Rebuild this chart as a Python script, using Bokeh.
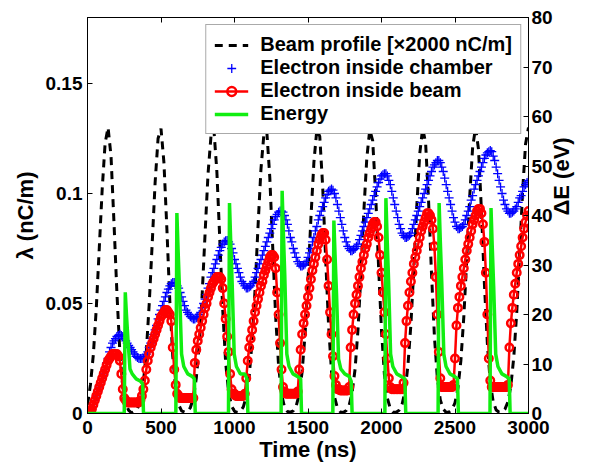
import math
from bokeh.plotting import figure
from bokeh.models import (Range1d, LinearAxis, FixedTicker, CustomJSTickFormatter,
                          Legend, LegendItem)
from bokeh.embed import file_html
from bokeh.resources import INLINE

# ---------------- data ----------------
# sampling grid (ns) of the electron curves
time_ns = list(range(0, 3001, 10))

# Electron inside chamber (nC/m), one row per 100 ns
chamber = [
    0.000, 0.0005, 0.001, 0.002, 0.004, 0.006, 0.008, 0.010, 0.012, 0.014,
    0.016, 0.018, 0.020, 0.023, 0.025, 0.028, 0.030, 0.032, 0.033, 0.034,
    0.035, 0.0355, 0.036, 0.0355, 0.035, 0.034, 0.033, 0.032, 0.031, 0.030,
    0.029, 0.028, 0.027, 0.026, 0.0255, 0.025, 0.025, 0.025, 0.025, 0.026,
    0.027, 0.028, 0.030, 0.032, 0.034, 0.036, 0.038, 0.040, 0.043, 0.045,
    0.047, 0.049, 0.051, 0.053, 0.055, 0.0565, 0.058, 0.059, 0.0595, 0.0595,
    0.059, 0.058, 0.057, 0.055, 0.053, 0.051, 0.049, 0.047, 0.046, 0.045,
    0.044, 0.0435, 0.043, 0.043, 0.0435, 0.044, 0.045, 0.046, 0.048, 0.050,
    0.052, 0.054, 0.057, 0.059, 0.062, 0.064, 0.066, 0.068, 0.070, 0.072,
    0.074, 0.0755, 0.077, 0.078, 0.0785, 0.0786, 0.078, 0.077, 0.075, 0.073,
    0.070, 0.068, 0.066, 0.064, 0.062, 0.060, 0.059, 0.058, 0.057, 0.057,
    0.0575, 0.058, 0.059, 0.060, 0.062, 0.064, 0.066, 0.068, 0.070, 0.072,
    0.074, 0.076, 0.078, 0.080, 0.082, 0.084, 0.086, 0.088, 0.0895, 0.0905,
    0.0915, 0.092, 0.092, 0.0915, 0.090, 0.088, 0.086, 0.083, 0.080, 0.078,
    0.075, 0.073, 0.071, 0.069, 0.068, 0.067, 0.067, 0.0675, 0.068, 0.069,
    0.071, 0.073, 0.075, 0.078, 0.080, 0.083, 0.085, 0.088, 0.090, 0.092,
    0.094, 0.096, 0.098, 0.0995, 0.101, 0.1015, 0.102, 0.1015, 0.100, 0.098,
    0.095, 0.092, 0.089, 0.086, 0.083, 0.080, 0.078, 0.076, 0.075, 0.074,
    0.074, 0.0745, 0.075, 0.076, 0.077, 0.079, 0.081, 0.083, 0.085, 0.087,
    0.089, 0.091, 0.093, 0.095, 0.097, 0.099, 0.101, 0.103, 0.105, 0.1065,
    0.108, 0.1085, 0.109, 0.109, 0.108, 0.106, 0.104, 0.101, 0.098, 0.095,
    0.092, 0.089, 0.086, 0.084, 0.082, 0.081, 0.080, 0.080, 0.0805, 0.081,
    0.082, 0.084, 0.086, 0.088, 0.090, 0.092, 0.094, 0.096, 0.098, 0.100,
    0.102, 0.104, 0.106, 0.108, 0.110, 0.112, 0.113, 0.114, 0.115, 0.115,
    0.114, 0.112, 0.110, 0.107, 0.104, 0.101, 0.098, 0.095, 0.092, 0.089,
    0.087, 0.085, 0.084, 0.084, 0.0845, 0.085, 0.086, 0.088, 0.090, 0.092,
    0.094, 0.097, 0.099, 0.102, 0.104, 0.106, 0.108, 0.110, 0.112, 0.114,
    0.116, 0.1175, 0.1185, 0.119, 0.1195, 0.119, 0.117, 0.115, 0.112, 0.109,
    0.106, 0.103, 0.100, 0.097, 0.095, 0.093, 0.092, 0.091, 0.091, 0.0915,
    0.092, 0.093, 0.094, 0.096, 0.098, 0.099, 0.101, 0.103, 0.104, 0.105,
    0.106,
]

# Electron inside beam (nC/m), one row per 100 ns
in_beam = [
    0.000, 0.0005, 0.001, 0.002, 0.004, 0.006, 0.008, 0.010, 0.012, 0.014,
    0.016, 0.018, 0.020, 0.022, 0.024, 0.025, 0.026, 0.027, 0.027, 0.027,
    0.027, 0.026, 0.024, 0.018, 0.011, 0.007, 0.006, 0.005, 0.005, 0.005,
    0.005, 0.005, 0.005, 0.005, 0.005, 0.005, 0.006, 0.008, 0.011, 0.015,
    0.020, 0.024, 0.027, 0.030, 0.032, 0.034, 0.036, 0.038, 0.040, 0.042,
    0.044, 0.045, 0.046, 0.047, 0.047, 0.046, 0.045, 0.042, 0.030, 0.020,
    0.013, 0.009, 0.008, 0.007, 0.007, 0.007, 0.007, 0.007, 0.007, 0.007,
    0.007, 0.007, 0.007, 0.023, 0.029, 0.033, 0.036, 0.039, 0.042, 0.045,
    0.048, 0.050, 0.053, 0.055, 0.057, 0.059, 0.060, 0.061, 0.062, 0.062,
    0.062, 0.061, 0.057, 0.050, 0.043, 0.035, 0.028, 0.018, 0.011, 0.009,
    0.009, 0.008, 0.008, 0.008, 0.008, 0.008, 0.008, 0.009, 0.016, 0.024,
    0.030, 0.034, 0.038, 0.042, 0.046, 0.049, 0.052, 0.055, 0.058, 0.060,
    0.063, 0.065, 0.067, 0.069, 0.071, 0.072, 0.072, 0.071, 0.066, 0.055,
    0.045, 0.032, 0.020, 0.012, 0.010, 0.009, 0.009, 0.009, 0.009, 0.009,
    0.009, 0.009, 0.009, 0.010, 0.020, 0.029, 0.036, 0.041, 0.045, 0.049,
    0.053, 0.057, 0.061, 0.065, 0.068, 0.071, 0.074, 0.077, 0.079, 0.081,
    0.082, 0.082, 0.079, 0.070, 0.058, 0.046, 0.036, 0.026, 0.017, 0.013,
    0.011, 0.011, 0.0105, 0.0105, 0.0105, 0.0105, 0.0105, 0.0105, 0.012, 0.030,
    0.038, 0.045, 0.050, 0.054, 0.058, 0.062, 0.066, 0.069, 0.072, 0.075,
    0.077, 0.080, 0.082, 0.084, 0.086, 0.087, 0.087, 0.085, 0.080, 0.072,
    0.064, 0.055, 0.046, 0.036, 0.025, 0.016, 0.012, 0.011, 0.011, 0.011,
    0.011, 0.011, 0.011, 0.011, 0.011, 0.014, 0.032, 0.042, 0.049, 0.055,
    0.060, 0.064, 0.068, 0.071, 0.074, 0.077, 0.080, 0.083, 0.085, 0.087,
    0.089, 0.091, 0.091, 0.090, 0.088, 0.084, 0.076, 0.062, 0.045, 0.028,
    0.016, 0.012, 0.012, 0.012, 0.012, 0.012, 0.012, 0.012, 0.012, 0.013,
    0.025, 0.040, 0.048, 0.053, 0.058, 0.062, 0.066, 0.070, 0.074, 0.077,
    0.080, 0.083, 0.086, 0.088, 0.090, 0.092, 0.093, 0.093, 0.091, 0.086,
    0.078, 0.064, 0.045, 0.025, 0.015, 0.012, 0.012, 0.012, 0.012, 0.012,
    0.012, 0.012, 0.012, 0.012, 0.012, 0.012, 0.013, 0.030, 0.041, 0.048,
    0.054, 0.059, 0.064, 0.068, 0.072, 0.076, 0.080, 0.084, 0.087, 0.090,
    0.092,
]

# Beam profile (x2000 nC/m, read on the left axis), sampled every 20 ns
beam_time_ns = list(range(0, 3001, 20))
beam_profile = [
    0.004, 0.013, 0.027, 0.048, 0.075, 0.102, 0.123, 0.130, 0.117, 0.087,
    0.055, 0.028, 0.012, 0.0045, 0.0014, 0.0003, 0.001, 0.0023, 0.006, 0.014,
    0.028, 0.050, 0.077, 0.105, 0.125, 0.1295, 0.114, 0.084, 0.051, 0.026,
    0.011, 0.004, 0.0012, 0.0006, 0.0009, 0.0027, 0.007, 0.016, 0.031, 0.054,
    0.082, 0.109, 0.126, 0.129, 0.110, 0.079, 0.047, 0.023, 0.0097, 0.0034,
    0.001, 0.0005, 0.001, 0.003, 0.0076, 0.017, 0.033, 0.0565, 0.085, 0.111,
    0.127, 0.128, 0.1075, 0.0755, 0.044, 0.0216, 0.0088, 0.003, 0.0009, 0.0006,
    0.0012, 0.0035, 0.0087, 0.019, 0.036, 0.0605, 0.089, 0.114, 0.129, 0.126,
    0.103, 0.0705, 0.040, 0.019, 0.0076, 0.0025, 0.0007, 0.0005, 0.0014, 0.0038,
    0.0094, 0.020, 0.038, 0.063, 0.092, 0.116, 0.129, 0.124, 0.100, 0.067,
    0.0376, 0.0176, 0.0069, 0.0022, 0.0006, 0.0006, 0.0015, 0.0042, 0.0102, 0.022,
    0.0405, 0.066, 0.094, 0.118, 0.1297, 0.123, 0.097, 0.064, 0.035, 0.016,
    0.0062, 0.002, 0.0005, 0.0007, 0.0018, 0.0049, 0.0116, 0.024, 0.044, 0.070,
    0.0985, 0.121, 0.130, 0.120, 0.092, 0.059, 0.032, 0.014, 0.0053, 0.0016,
    0.0006, 0.0007, 0.002, 0.0053, 0.0125, 0.0257, 0.046, 0.073, 0.101, 0.1225,
    0.130,
]

# Energy (eV, right axis)
energy_time_ns = [
    0,
    250, 257, 265, 275, 289, 304, 331, 361, 375, 381,
    601, 608, 616, 626, 640, 655, 682, 712, 727, 733,
    959, 966, 974, 984, 998, 1013, 1040, 1070, 1085, 1091,
    1317, 1324, 1332, 1342, 1356, 1371, 1398, 1428, 1450, 1456,
    1669, 1676, 1684, 1694, 1708, 1723, 1750, 1780, 1794, 1800,
    2023, 2030, 2038, 2048, 2062, 2077, 2104, 2134, 2159, 2165,
    2385, 2392, 2400, 2410, 2424, 2439, 2466, 2496, 2517, 2523,
    2738, 2745, 2753, 2763, 2777, 2792, 2819, 2849, 2869, 2875,
    3000,
]
energy_ev = [
    0,
    0, 24.5, 20, 15, 9, 8, 7, 6.5, 6, 0,
    0, 40.5, 33.2, 25.1, 12, 9.5, 8, 7.5, 7, 0,
    0, 42.5, 34.9, 26.4, 12, 9.5, 8, 8, 7, 0,
    0, 45, 36.9, 27.9, 12, 9.5, 8, 7.5, 7, 0,
    0, 39, 32, 24.2, 11, 9, 8, 7.5, 6.5, 0,
    0, 43.5, 35.7, 27, 12, 9.5, 8, 7.5, 7, 0,
    0, 42.5, 34.9, 26.4, 12, 9.5, 8, 7.5, 7, 0,
    0, 41.5, 34, 25.7, 12, 9.5, 8, 7.5, 7, 0,
    0,
]

x_ticks = [0, 500, 1000, 1500, 2000, 2500, 3000]
left_ticks = [0, 0.05, 0.1, 0.15]
right_ticks = [0, 10, 20, 30, 40, 50, 60, 70, 80]

legend_labels = ["Beam profile [\u00d72000 nC/m]", "Electron inside chamber",
                 "Electron inside beam", "Energy"]

# ---------------- figure ----------------
FONT = "Liberation Sans"

p = figure(width=589, height=466, output_backend="svg", toolbar_location=None,
           x_range=Range1d(0, 3000), y_range=Range1d(0, 0.18),
           min_border_left=87, min_border_right=58, min_border_top=17,
           min_border_bottom=53)
p.extra_y_ranges = {"energy": Range1d(0, 80)}
p.grid.visible = False
p.outline_line_color = "black"
p.outline_line_width = 1
p.background_fill_color = "white"
p.border_fill_color = "white"

beam_r = p.line(beam_time_ns, beam_profile, line_color="black", line_width=3,
                line_dash="8 6")
chamber_r = p.scatter(time_ns, chamber, marker="cross", size=9,
                      line_color="#0000ff", line_width=1.3)
beam_line_r = p.line(time_ns, in_beam, line_color="#ff0000", line_width=2.5)
beam_pts_r = p.scatter(time_ns, in_beam, marker="circle", size=7.5,
                       line_color="#ff0000", line_width=2.5, fill_alpha=0)
energy_r = p.line(energy_time_ns, energy_ev, y_range_name="energy",
                  line_color="#11ee11", line_width=3.5)

bottom_axis = p.below[0]
left_axis = p.left[0]
right_axis = LinearAxis(y_range_name="energy")
p.add_layout(right_axis, "right")
top_axis = LinearAxis()
p.add_layout(top_axis, "above")


def style_axis(ax, ticks):
    ax.ticker = FixedTicker(ticks=ticks)
    ax.major_tick_in = 5
    ax.major_tick_out = 0
    ax.minor_tick_line_color = None
    ax.axis_line_color = "black"
    ax.major_tick_line_color = "black"
    ax.major_label_text_font = FONT
    ax.major_label_text_font_style = "bold"
    ax.major_label_text_font_size = "19px"
    ax.major_label_text_color = "black"
    ax.axis_label_text_font = FONT
    ax.axis_label_text_font_style = "bold"
    ax.axis_label_text_font_size = "22px"
    ax.axis_label_text_color = "black"


style_axis(bottom_axis, x_ticks)
bottom_axis.axis_label = "Time (ns)"
bottom_axis.major_label_standoff = 7
bottom_axis.axis_label_standoff = 0

style_axis(left_axis, left_ticks)
left_axis.axis_label = "\u03bb (nC/m)"
left_axis.major_label_standoff = 5
left_axis.axis_label_standoff = 5
left_axis.formatter = CustomJSTickFormatter(code="return String(Number(tick.toFixed(3)));")

style_axis(right_axis, right_ticks)
right_axis.axis_label = "\u0394E (eV)"
right_axis.major_label_standoff = 3
right_axis.axis_label_standoff = 6
if hasattr(right_axis, "axis_label_orientation"):
    right_axis.axis_label_orientation = math.pi / 2

style_axis(top_axis, x_ticks)
top_axis.major_label_text_font_size = "0px"
top_axis.major_label_standoff = 0
top_axis.formatter = CustomJSTickFormatter(code="return '';")

legend = Legend(items=[
    LegendItem(label=legend_labels[0], renderers=[beam_r]),
    LegendItem(label=legend_labels[1], renderers=[chamber_r]),
    LegendItem(label=legend_labels[2], renderers=[beam_line_r, beam_pts_r]),
    LegendItem(label=legend_labels[3], renderers=[energy_r]),
], location="top_right")
legend.margin = 7
legend.padding = 8
legend.spacing = 0
legend.glyph_width = 34
legend.glyph_height = 22
legend.label_standoff = 12
legend.label_text_font = FONT
legend.label_text_font_style = "bold"
legend.label_text_font_size = "20px"
legend.label_text_color = "black"
legend.border_line_color = "#555555"
legend.border_line_width = 1
legend.background_fill_color = "white"
legend.background_fill_alpha = 1
p.add_layout(legend)

open("out.html", "w").write(file_html(p, INLINE))
